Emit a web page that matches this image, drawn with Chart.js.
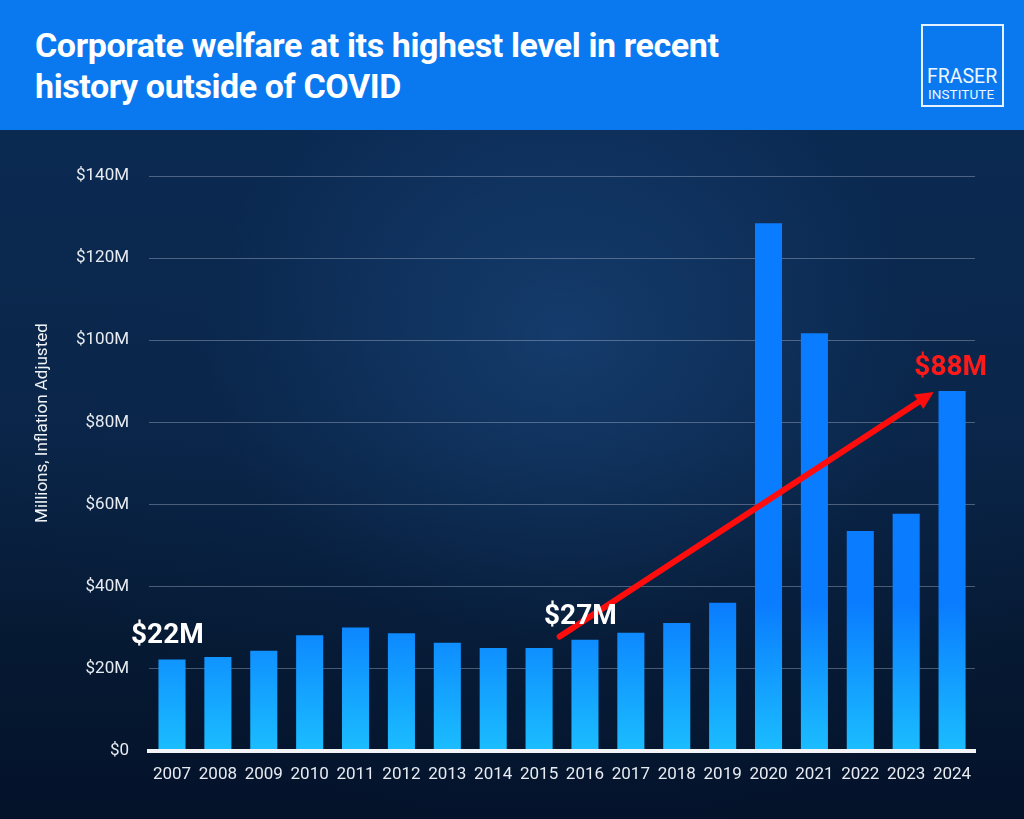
<!DOCTYPE html>
<html lang="en">
<head>
<meta charset="UTF-8">
<title>Corporate welfare</title>
<script src="https://cdn.jsdelivr.net/npm/chart.js"></script>
<style>
  html, body {
    margin: 0;
    padding: 0;
    width: 1024px;
    height: 819px;
    overflow: hidden;
    font-family: Roboto, "Noto Sans", sans-serif;
  }
  .header {
    position: absolute;
    left: 0; top: 0;
    width: 1024px;
    height: 130px;
    background: #0a79f0;
  }
  .header h1 {
    position: absolute;
    left: 35px;
    top: 25px;
    margin: 0;
    color: #fff;
    font-size: 34px;
    line-height: 41px;
    font-weight: 700;
    letter-spacing: -0.4px;
    white-space: nowrap;
  }
  .logo {
    position: absolute;
    left: 921px;
    top: 24px;
    width: 79px;
    height: 79px;
    border: 2px solid #e6f2ff;
    color: #eef6ff;
  }
  .logo .l1 { position: absolute; left: 4px; top: 41px; font-size: 19.5px; line-height: 19px; }
  .logo .l2 { position: absolute; left: 5px; top: 62px; font-size: 13.5px; line-height: 13px; letter-spacing: 0.1px; }
  .stage {
    position: absolute;
    left: 0; top: 130px;
    width: 1024px;
    height: 689px;
    background:
      radial-gradient(ellipse at 55% 30%, rgba(30,80,140,0.5) 0%, rgba(10,40,80,0.2) 45%, rgba(0,0,0,0) 75%),
      linear-gradient(180deg, #0b2a52 0%, #0a2548 45%, #061932 75%, #04122a 100%);
  }
  .stage canvas {
    width: 1024px !important;
    height: 689px !important;
  }
</style>
</head>
<body>

<div class="header">
  <h1>Corporate welfare at its highest level in recent<br>history outside of COVID</h1>
  <div class="logo"><span class="l1">FRASER</span><span class="l2">INSTITUTE</span></div>
</div>

<div class="stage">
  <canvas id="welfareChart"></canvas>
</div>

<script>
// Años y valores (millones, ajustados por inflación)
const years = ['2007', '2008', '2009', '2010', '2011', '2012', '2013', '2014', '2015',
               '2016', '2017', '2018', '2019', '2020', '2021', '2022', '2023', '2024'];
const welfare = [22.2, 22.8, 24.3, 28.1, 30.0, 28.6, 26.3, 25.0, 25.0,
                 27.0, 28.7, 31.1, 36.0, 128.5, 101.7, 53.5, 57.7, 87.6];
const yTicks = [0, 20, 40, 60, 80, 100, 120, 140];
const yTitle = 'Millions, Inflation Adjusted';

// Etiquetas sobre barras (indice de barra, posicion en categoria, color)
const labelBars = [0, 9, 17];
const labelPos = [-0.1, -0.1, -0.03];
const labelColors = ['#ffffff', '#ffffff', '#ff1a1a'];

// Flecha de tendencia (indice de categoria, valor)
const arrowFrom = [8.45, 27.8];
const arrowTo = [16.6, 87.4];

function barGradient(context) {
  const chart = context.chart;
  if (!chart.chartArea) return '#0a7dff';
  const y = chart.scales.y;
  const g = chart.ctx.createLinearGradient(0, y.getPixelForValue(36), 0, y.getPixelForValue(0));
  g.addColorStop(0, '#0a7cff');
  g.addColorStop(1, '#1bbdff');
  return g;
}

const overlayPlugin = {
  id: 'overlay',
  afterDatasetsDraw(chart) {
    const ctx = chart.ctx;
    const x = chart.scales.x, y = chart.scales.y;
    const area = chart.chartArea;

    // titulo del eje y (un poco por encima del centro, como en el original)
    ctx.save();
    ctx.translate(43, area.top + (area.bottom - area.top) * 0.43);
    ctx.rotate(-Math.PI / 2);
    ctx.font = '17px Roboto';
    ctx.fillStyle = '#f0f3f7';
    ctx.textAlign = 'center';
    ctx.textBaseline = 'middle';
    ctx.fillText(yTitle, 0, 0);
    ctx.restore();

    // flecha roja
    const x1 = x.getPixelForValue(arrowFrom[0]), y1 = y.getPixelForValue(arrowFrom[1]);
    const x2 = x.getPixelForValue(arrowTo[0]), y2 = y.getPixelForValue(arrowTo[1]);
    const ang = Math.atan2(y2 - y1, x2 - x1);
    const head = 20;
    ctx.save();
    ctx.strokeStyle = '#ff0d0d';
    ctx.fillStyle = '#ff0d0d';
    ctx.lineWidth = 6;
    ctx.lineCap = 'round';
    ctx.beginPath();
    ctx.moveTo(x1, y1);
    ctx.lineTo(x2 - Math.cos(ang) * head * 0.8, y2 - Math.sin(ang) * head * 0.8);
    ctx.stroke();
    ctx.beginPath();
    ctx.moveTo(x2, y2);
    ctx.lineTo(x2 - head * Math.cos(ang - 0.45), y2 - head * Math.sin(ang - 0.45));
    ctx.lineTo(x2 - head * Math.cos(ang + 0.45), y2 - head * Math.sin(ang + 0.45));
    ctx.closePath();
    ctx.fill();

    // etiquetas de valor
    ctx.font = 'bold 28px Roboto';
    ctx.textAlign = 'center';
    ctx.textBaseline = 'bottom';
    labelBars.forEach((i, k) => {
      const px = x.getPixelForValue(i + labelPos[k]);
      const py = y.getPixelForValue(welfare[i]) - 9;
      ctx.fillStyle = labelColors[k];
      ctx.fillText('$' + Math.round(welfare[i]) + 'M', px, py);
    });
    ctx.restore();
  }
};

new Chart(document.getElementById('welfareChart'), {
  type: 'bar',
  data: {
    labels: years,
    datasets: [{
      label: 'Corporate welfare',
      data: welfare,
      backgroundColor: barGradient,
      borderWidth: 0,
      categoryPercentage: 1.0,
      barPercentage: 0.59
    }]
  },
  options: {
    responsive: true,
    maintainAspectRatio: false,
    animation: false,
    layout: {
      padding: { top: 46, right: 49, left: 56, bottom: 28 }
    },
    plugins: {
      legend: { display: false },
      tooltip: { enabled: false }
    },
    scales: {
      x: {
        grid: { display: false },
        border: { display: true, color: '#f2f4f8', width: 4, z: 1 },
        ticks: {
          color: '#e8ecf2',
          font: { family: 'Roboto', size: 17 },
          padding: 6,
          maxRotation: 0,
          autoSkip: false
        }
      },
      y: {
        min: 0,
        max: 140,
        afterBuildTicks(scale) {
          scale.ticks = yTicks.map(v => ({ value: v }));
        },
        grid: {
          color: 'rgba(200,210,225,0.35)',
          lineWidth: 1,
          drawTicks: false
        },
        border: { display: false },
        ticks: {
          color: '#e8ecf2',
          font: { family: 'Roboto', size: 17 },
          padding: 20,
          callback: v => '$' + v + (v === 0 ? '' : 'M')
        }
      }
    }
  },
  plugins: [overlayPlugin]
});
</script>

</body>
</html>
